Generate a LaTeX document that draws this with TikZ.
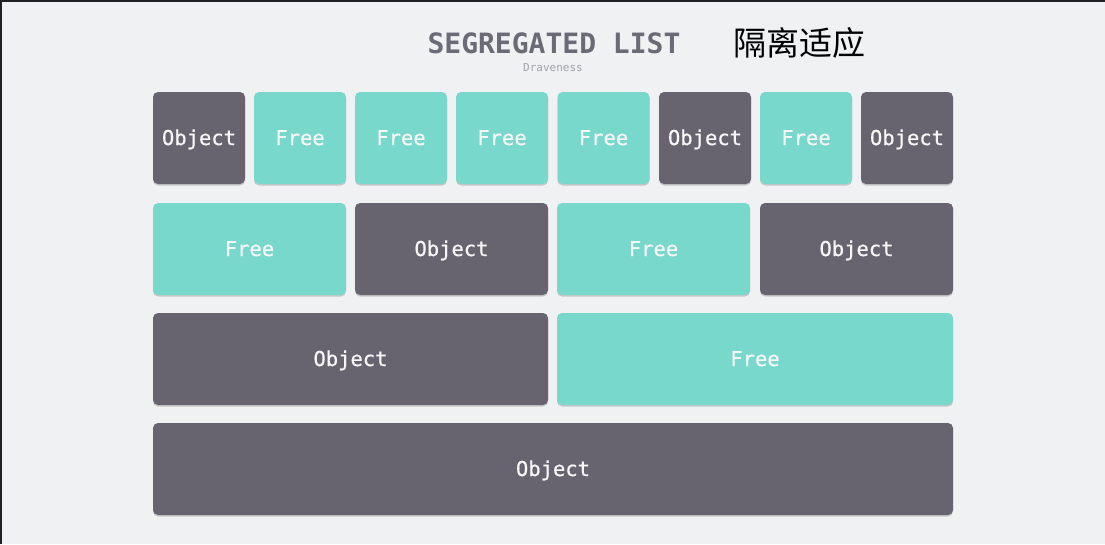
\documentclass[tikz,border=0pt]{standalone}
\usepackage{fontspec}
\setmonofont{DejaVu Sans Mono}
\newfontfamily\boxfont[FakeBold=0.5]{DejaVu Sans Mono}
\newfontfamily\cjk{Noto Sans CJK SC}
\usetikzlibrary{shadows}
\definecolor{bg}{HTML}{F0F1F3}
\definecolor{objc}{HTML}{676470}
\definecolor{freec}{HTML}{78D8CC}
\definecolor{titlec}{HTML}{6B6A75}
\definecolor{subc}{HTML}{A0A2A8}
\definecolor{edgec}{HTML}{1E2024}
\tikzset{
  cell/.style={rounded corners=5pt, inner sep=0pt, minimum height=92pt,
    text height=14pt, text depth=0pt,
    text=white!97!black, font=\boxfont\fontsize{20.5}{20.5}\selectfont,
    drop shadow={shadow xshift=0pt, shadow yshift=-1.5pt, opacity=0.3, fill=black!60}},
  objbox/.style={cell, fill=objc},
  freebox/.style={cell, fill=freec},
}
\begin{document}
\begin{tikzpicture}[x=1pt,y=-1pt]
\fill[bg] (0,0) rectangle (1105,544);
\useasboundingbox (0,0) rectangle (1105,544);
\draw[edgec, line width=1.5pt] (0.75,544) -- (0.75,0.75) -- (1105,0.75);
\node[font=\ttfamily\bfseries\fontsize{28}{28}\selectfont, text=titlec, inner sep=0pt] (title) at (554,43) {SEGREGATED LIST};
\node[font=\ttfamily\fontsize{11}{11}\selectfont, text=subc, inner sep=0pt] (sub) at (553,68) {Draveness};
\node[font=\cjk\fontsize{33}{33}\selectfont, text=black, inner sep=0pt] (cn) at (799.5,43) {隔离适应};
% row 1
\node[objbox, minimum width=92pt] (r1a) at (199,138) {Object};
\node[freebox, minimum width=92pt] (r1b) at (300,138) {Free};
\node[freebox, minimum width=92pt] (r1c) at (401,138) {Free};
\node[freebox, minimum width=92pt] (r1d) at (502,138) {Free};
\node[freebox, minimum width=92pt] (r1e) at (603.5,138) {Free};
\node[objbox, minimum width=92pt] (r1f) at (705,138) {Object};
\node[freebox, minimum width=92pt] (r1g) at (806,138) {Free};
\node[objbox, minimum width=92pt] (r1h) at (907,138) {Object};
% row 2
\node[freebox, minimum width=193pt] (r2a) at (249.5,249) {Free};
\node[objbox, minimum width=193pt] (r2b) at (451.5,249) {Object};
\node[freebox, minimum width=193pt] (r2c) at (653.5,249) {Free};
\node[objbox, minimum width=193pt] (r2d) at (856.5,249) {Object};
% row 3
\node[objbox, minimum width=395pt] (r3a) at (350.5,359) {Object};
\node[freebox, minimum width=396pt] (r3b) at (755,359) {Free};
% row 4
\node[objbox, minimum width=800pt] (r4a) at (553,469) {Object};
\end{tikzpicture}
\end{document}
